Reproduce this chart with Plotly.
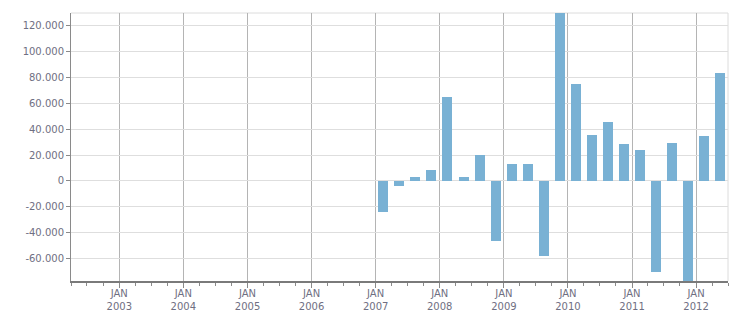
import plotly.graph_objects as go

quarters = ["2007-02-14", "2007-05-16", "2007-08-15", "2007-11-15",
            "2008-02-14", "2008-05-16", "2008-08-15", "2008-11-15",
            "2009-02-14", "2009-05-16", "2009-08-15", "2009-11-15",
            "2010-02-14", "2010-05-16", "2010-08-15", "2010-11-15",
            "2011-02-14", "2011-05-16", "2011-08-15", "2011-11-15",
            "2012-02-14", "2012-05-16"]
values = [-24000, -3900, 3100, 8500,
          65000, 3100, 20100, -46400,
          13100, 13100, -58000, 135000,
          75000, 35600, 45600, 28600,
          24000, -70400, 29400, -85000,
          34800, 83500]

year_ticks = ["2003-01-01", "2004-01-01", "2005-01-01", "2006-01-01", "2007-01-01",
              "2008-01-01", "2009-01-01", "2010-01-01", "2011-01-01", "2012-01-01"]
year_labels = ["JAN<br>2003", "JAN<br>2004", "JAN<br>2005", "JAN<br>2006", "JAN<br>2007",
               "JAN<br>2008", "JAN<br>2009", "JAN<br>2010", "JAN<br>2011", "JAN<br>2012"]
y_ticks = [-60000, -40000, -20000, 0, 20000, 40000, 60000, 80000, 100000, 120000]
y_labels = ["-60.000", "-40.000", "-20.000", "0", "20.000", "40.000", "60.000",
            "80.000", "100.000", "120.000"]

DAY = 86400000
fig = go.Figure(go.Bar(x=quarters, y=values, width=57 * DAY,
                       marker=dict(color="#79B1D4", line=dict(width=0))))

font = dict(family="DejaVu Sans", size=10, color="#6f6f82")
fig.update_layout(
    width=751, height=313,
    margin=dict(l=71, r=23, t=13, b=32),
    paper_bgcolor="white", plot_bgcolor="white",
    showlegend=False, bargap=0,
    font=font,
    xaxis=dict(type="date", range=["2002-04-01", "2012-07-01"],
               tickvals=year_ticks, ticktext=year_labels,
               showgrid=True, gridcolor="#b4b4b4", gridwidth=1,
               ticks="outside", ticklen=5, tickcolor="#8a8a8a", tickwidth=1,
               ticklabelstandoff=-3,
               showline=True, linecolor="#7a7a7a", linewidth=2,
               minor=dict(dtick="M3", tick0="2003-01-01", ticks="outside",
                          ticklen=3, tickcolor="#8a8a8a", showgrid=False),
               tickfont=font, zeroline=False, automargin=False),
    yaxis=dict(range=[-77300, 129700], tickvals=y_ticks, ticktext=y_labels,
               showgrid=True, gridcolor="#dedede", gridwidth=1,
               ticks="outside", ticklen=4, tickcolor="#8a8a8a",
               showline=True, linecolor="#8a8a8a", linewidth=1,
               zeroline=False, tickfont=font, automargin=False),
    shapes=[
        dict(type="line", xref="paper", yref="paper", x0=0, x1=1, y0=1, y1=1,
             line=dict(color="#dcdcdc", width=1), layer="below"),
        dict(type="line", xref="paper", yref="paper", x0=1, x1=1, y0=0, y1=1,
             line=dict(color="#dcdcdc", width=1), layer="below"),
    ],
)

fig.write_html("out.html")
